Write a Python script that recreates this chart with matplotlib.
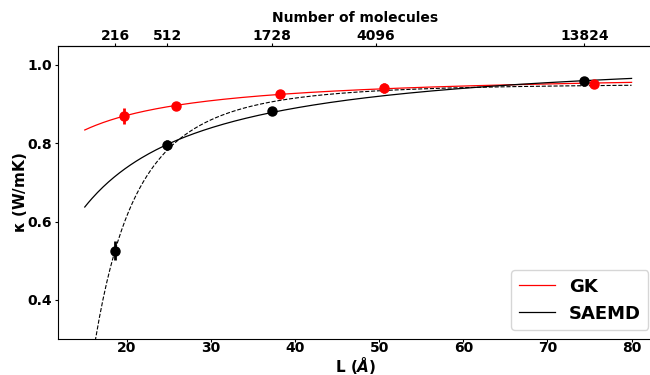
import numpy as np
import matplotlib
matplotlib.use('Agg')
import matplotlib.pyplot as plt

plt.rcParams['font.weight'] = 'bold'
plt.rcParams['axes.labelweight'] = 'bold'
plt.rcParams['mathtext.fontset'] = 'custom'
plt.rcParams['mathtext.rm'] = 'DejaVu Sans:bold'
plt.rcParams['mathtext.bf'] = 'DejaVu Sans:bold'
plt.rcParams['mathtext.it'] = 'DejaVu Sans:bold:italic'

# GK data (L in Angstrom, kappa in W/mK)
L_gk = [19.7, 25.9, 38.2, 50.6, 75.5]
k_gk = [0.870, 0.895, 0.926, 0.941, 0.952]
err_gk = [0.020, 0.006, 0.006, 0.012, 0.010]

# SAEMD data
L_sa = [18.6, 24.8, 37.2, 74.4]
k_sa = [0.526, 0.795, 0.882, 0.958]
err_sa = [0.024, 0.012, 0.010, 0.012]

# dashed SAEMD model: k = k_inf - b / L**n
dash_kinf = 0.952
dash_b = 4920.0
dash_n = 3.2

n_molecules = [216, 512, 1728, 4096, 13824]
lattice = 3.1  # Angstrom per molecule edge

fig = plt.figure(figsize=(6.5, 3.75), dpi=100)
ax = fig.add_axes([0.089, 0.096, 0.915, 0.781])

Lfit = np.linspace(15, 80, 300)
p_gk = np.polyfit(1 / np.array(L_gk), k_gk, 1)
# solid SAEMD fit leaves out the smallest box
p_sa = np.polyfit(1 / np.array(L_sa[1:]), k_sa[1:], 1)
ax.plot(Lfit, np.polyval(p_gk, 1 / Lfit), color='red', lw=0.9, label='GK')
ax.plot(Lfit, np.polyval(p_sa, 1 / Lfit), color='black', lw=0.9, label='SAEMD')
ax.plot(Lfit, dash_kinf - dash_b / Lfit**dash_n, color='black', lw=0.8, ls='--')

ax.errorbar(L_gk, k_gk, yerr=err_gk, fmt='o', color='red', ms=6.5, elinewidth=2)
ax.errorbar(L_sa, k_sa, yerr=err_sa, fmt='o', color='black', ms=6.5, elinewidth=2)

ax.set_xlim(11.8, 82.5)
ax.set_ylim(0.3, 1.048)
ax.set_xticks([20, 30, 40, 50, 60, 70, 80])
ax.set_yticks([0.4, 0.6, 0.8, 1.0])
ax.tick_params(labelsize=10, length=2, pad=2)
ax.tick_params(axis='x', pad=-0.5)
ax.set_xlabel(r'L ($\mathit{Å}$)', fontsize=11)
ax.xaxis.set_label_coords(0.5, -0.055)
ax.set_ylabel(r'$\mathbf{\kappa}$ (W/mK)', fontsize=11)
ax.yaxis.set_label_coords(-0.049, 0.5)

# top axis: number of molecules in the cubic box
top = ax.twiny()
top.set_xlim(ax.get_xlim())
top.set_xticks(lattice * np.cbrt(n_molecules))
top.set_xticklabels([str(n) for n in n_molecules])
top.tick_params(labelsize=10, length=2, pad=0.5)
top.set_xlabel('Number of molecules', fontsize=10, labelpad=5)
for s in ['left', 'right', 'bottom']:
    top.spines[s].set_visible(False)

ax.legend(loc='lower right', bbox_to_anchor=(0.993, 0.031), borderaxespad=0,
          fontsize=13, handlelength=2.0)

fig.savefig('out.png', dpi=100)
